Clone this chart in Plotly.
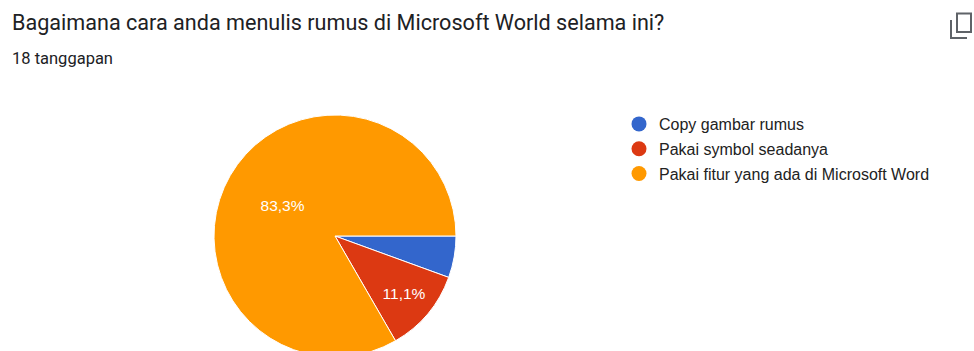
import plotly.graph_objects as go

# Data
title_text = "Bagaimana cara anda menulis rumus di Microsoft World selama ini?"
subtitle_text = "18 tanggapan"
labels = ["Copy gambar rumus", "Pakai symbol seadanya", "Pakai fitur yang ada di Microsoft Word"]
counts = [1, 2, 15]
colors = ["#3366CC", "#DC3912", "#FF9900"]

W, H = 974, 400
cx, cy, r = 335, 236, 121

fig = go.Figure()
total = sum(counts)
templates = ["%{percent:.1%}" if c / total >= 0.1 else "" for c in counts]
fig.add_trace(go.Pie(
    labels=labels, values=counts, sort=False, direction="clockwise", rotation=90,
    marker=dict(colors=colors, line=dict(color="white", width=1)),
    texttemplate=templates, textposition="inside", insidetextorientation="horizontal",
    textfont=dict(family="Arial, Liberation Sans", size=15.5, color="white"),
    showlegend=False, hoverinfo="label+percent",
    domain=dict(x=[(cx - r) / W, (cx + r) / W], y=[(H - cy - r) / H, (H - cy + r) / H]),
))
for lab, col in zip(labels, colors):
    fig.add_trace(go.Scatter(
        x=[None], y=[None], mode="markers", name=lab, legendgroup=lab,
        marker=dict(color=col, size=15, symbol="circle"),
    ))

shapes = [
    dict(type="rect", xref="paper", yref="paper",
         x0=957 / W, x1=971 / W, y0=1 - 32 / H, y1=1 - 13.5 / H,
         line=dict(color="#5f6368", width=2)),
    dict(type="path", xref="paper", yref="paper",
         path=f"M {951/W} {1-20/H} L {951/W} {1-38/H} L {967/W} {1-38/H}",
         line=dict(color="#5f6368", width=2)),
]

fig.update_layout(
    width=W, height=H, margin=dict(l=0, r=0, t=0, b=0),
    paper_bgcolor="white", plot_bgcolor="white",
    separators=",.",
    xaxis=dict(visible=False), yaxis=dict(visible=False),
    shapes=shapes,
    legend=dict(x=619 / W, y=1 - 107 / H, xanchor="left", yanchor="top",
                font=dict(family="Arial, Liberation Sans", size=16, color="#222222"),
                tracegroupgap=1, itemclick=False, bgcolor="rgba(0,0,0,0)"),
    annotations=[
        dict(text=title_text, x=10 / W, y=1 - 22 / H, xref="paper", yref="paper",
             xanchor="left", yanchor="middle", showarrow=False,
             font=dict(family="Roboto, Arial", size=21.6, color="#202124")),
        dict(text=subtitle_text, x=10 / W, y=1 - 58 / H, xref="paper", yref="paper",
             xanchor="left", yanchor="middle", showarrow=False,
             font=dict(family="Roboto, Arial", size=16.5, color="#202124")),
    ],
)

fig.write_html("out.html", post_script="document.documentElement.style.overflow='hidden';document.body.style.overflow='hidden';document.body.style.margin='0';")
